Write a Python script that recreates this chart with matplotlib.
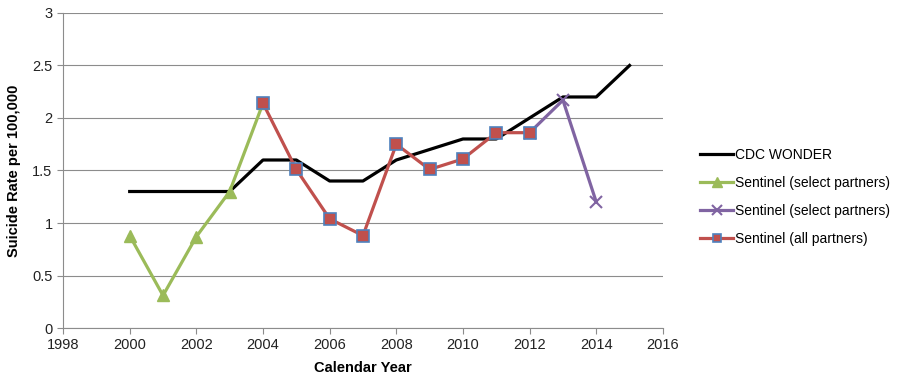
import matplotlib
matplotlib.use("Agg")
from matplotlib import pyplot as plt

# series values
cdc_years = [2000, 2001, 2002, 2003, 2004, 2005, 2006, 2007, 2008, 2009, 2010, 2011, 2012, 2013, 2014, 2015]
cdc_rate = [1.3, 1.3, 1.3, 1.3, 1.6, 1.6, 1.4, 1.4, 1.6, 1.7, 1.8, 1.8, 2.0, 2.2, 2.2, 2.5]

sel_years = [2000, 2001, 2002, 2003, 2004]
sel_rate = [0.88, 0.31, 0.87, 1.30, 2.14]

sel2_years = [2012, 2013, 2014]
sel2_rate = [1.86, 2.17, 1.20]

all_years = [2004, 2005, 2006, 2007, 2008, 2009, 2010, 2011, 2012]
all_rate = [2.14, 1.51, 1.04, 0.88, 1.75, 1.51, 1.61, 1.86, 1.86]

x_ticks = [1998, 2000, 2002, 2004, 2006, 2008, 2010, 2012, 2014, 2016]
y_ticks = [0, 0.5, 1, 1.5, 2, 2.5, 3]

plt.rcParams['font.family'] = ['Liberation Sans', 'DejaVu Sans']

fig = plt.figure(figsize=(8.98, 3.81), dpi=100)
ax = fig.add_axes([0.0702, 0.139, 0.668, 0.827])

grid_col = '#8c8c8c'
ax.set_xlim(1998, 2016)
ax.set_ylim(0, 3)
ax.set_xticks(x_ticks)
ax.set_yticks(y_ticks)
ax.set_yticklabels(['0', '0.5', '1', '1.5', '2', '2.5', '3'])
ax.yaxis.grid(True, color=grid_col, lw=0.8)
ax.set_axisbelow(True)
for s in ['top', 'right']:
    ax.spines[s].set_visible(False)
for s in ['left', 'bottom']:
    ax.spines[s].set_color(grid_col)
    ax.spines[s].set_linewidth(0.8)
ax.tick_params(axis='both', colors=grid_col, labelcolor='#222222', labelsize=10.5, length=4, width=0.8)

ax.plot(cdc_years, cdc_rate, color='black', lw=2.3, label='CDC WONDER', zorder=3)
ax.plot(sel_years, sel_rate, color='#9bbb59', lw=2.3, marker='^', ms=9,
        mfc='#9bbb59', mec='#9bbb59', label='Sentinel (select partners)', zorder=4)
ax.plot(sel2_years, sel2_rate, color='#8064a2', lw=2.3, marker='x', ms=9, mew=1.5,
        label='Sentinel (select partners)', zorder=4)
ax.plot(all_years, all_rate, color='#c0504d', lw=2.3, marker='s', ms=8,
        mfc='#c0504d', mec='#4f81bd', mew=1.2, label='Sentinel (all partners)', zorder=5)

ax.set_xlabel('Calendar Year', fontsize=10.5, fontweight='bold', labelpad=6)
ax.set_ylabel('Suicide Rate per 100,000', fontsize=10.5, fontweight='bold', labelpad=8)

leg = fig.legend(loc='upper left', bbox_to_anchor=(700 / 898, 1 - 148 / 381), frameon=False,
                 fontsize=10, handlelength=2.4, handletextpad=0.15, labelspacing=1.0,
                 borderaxespad=0, borderpad=0, markerscale=0.8)

fig.savefig('out.png', dpi=100)
